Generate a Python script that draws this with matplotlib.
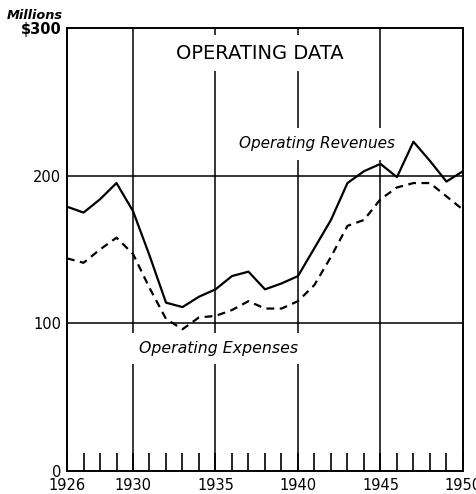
import numpy as np
import matplotlib.pyplot as plt

# Operating data, millions of dollars
years = np.arange(1926, 1951)
revenues = [179, 175, 184, 195, 176, 146, 114, 111, 118, 123, 132, 135, 123,
            127, 132, 151, 170, 195, 203, 208, 199, 223, 210, 196, 203]
expenses = [144, 141, 150, 158, 147, 124, 103, 96, 104, 105, 109, 115, 110,
            110, 115, 126, 145, 166, 170, 184, 192, 195, 195, 186, 177]

ytick_vals = [0, 100, 200, 300]
ytick_labels = ['0', '100', '200', '$300']
xtick_major = [1926, 1930, 1935, 1940, 1945, 1950]

fig = plt.figure(figsize=(4.77, 4.94), dpi=100)
ax = fig.add_axes([0.1405, 0.0466, 0.830, 0.8967])

ax.set_xlim(1926, 1950)
ax.set_ylim(0, 300)

# grid lines (interrupted behind the text boxes)
for v in [100, 200]:
    ax.axhline(v, color='black', lw=1.1, zorder=1)
for yr in [1930, 1935, 1940, 1945]:
    ax.axvline(yr, color='black', lw=1.1, zorder=1)

ax.plot(years, revenues, color='black', lw=1.6, zorder=3)
ax.plot(years, expenses, color='black', lw=1.6, ls=(0, (3.5, 2.5)), zorder=3)

box = dict(facecolor='white', edgecolor='none', pad=6)
ax.text(0.487, 283, 'OPERATING DATA', transform=ax.get_yaxis_transform(),
        ha='center', va='center', fontsize=14, zorder=2, bbox=box)
ax.text(1936.4, 221.5, 'Operating Revenues', style='italic', fontsize=11,
        ha='left', va='center', zorder=2, bbox=box)
ax.text(1930.35, 83, 'Operating Expenses', style='italic', fontsize=11.3,
        ha='left', va='center', zorder=2, bbox=box)

ax.set_yticks(ytick_vals)
ax.set_yticklabels(ytick_labels, fontsize=10.5)
ax.tick_params(axis='y', length=0, pad=4)
ax.get_yticklabels()[-1].set_fontweight('bold')

ax.set_xticks(xtick_major)
ax.set_xticklabels([str(y) for y in xtick_major], fontsize=10.5)
ax.set_xticks(years, minor=True)
ax.tick_params(axis='x', which='both', direction='in', length=13, width=1.2, pad=5)

for s in ax.spines.values():
    s.set_linewidth(1.4)

fig.text(0.015, 0.968, 'Millions', style='italic', fontweight='bold',
         fontsize=9.3, ha='left', va='center')

fig.savefig('out.png', dpi=100)
